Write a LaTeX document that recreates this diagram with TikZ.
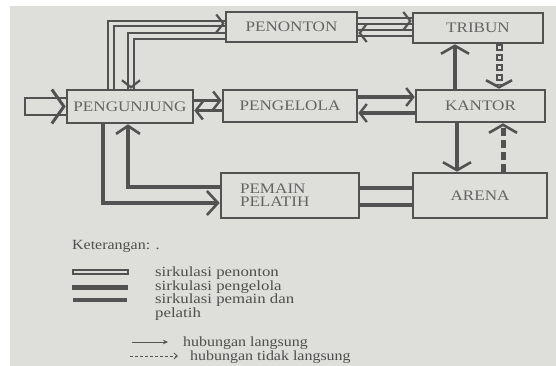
\documentclass[tikz,border=0pt]{standalone}
\usepackage{fontspec}
\setmainfont{Liberation Serif}
\usetikzlibrary{arrows.meta,calc}
\definecolor{paper}{RGB}{222,222,219}
\definecolor{ink}{RGB}{82,82,82}
\definecolor{txt}{RGB}{100,100,100}
\definecolor{ltxt}{RGB}{78,78,78}
\newcommand{\wx}[1]{\scalebox{1.18}[1]{#1}}
\newcommand{\lx}[1]{\scalebox{1.14}[1]{#1}}
\newcommand{\sx}[1]{\scalebox{1.2}[1]{#1}}
\begin{document}
\begin{tikzpicture}[x=1pt,y=-1pt,
  bx/.style={draw=ink,line width=2.6pt,rectangle,inner sep=0pt,text=txt,font=\fontsize{14.5}{13}\selectfont},
  penline/.style={draw=ink,line width=1.7pt,double=paper,double distance=3.8pt},
  pngline/.style={draw=ink,line width=3.6pt},
  pmnline/.style={draw=ink,line width=4.4pt},
  chevS/.style={draw=ink,line width=2pt,-{Straight Barb[length=7pt,width=18pt,line width=2.2pt]}},
  tipH/.style={-{Straight Barb[length=7pt,width=18pt,line width=2.4pt]}},
  tipV/.style={-{Straight Barb[length=8pt,width=28pt,line width=2.6pt]}},
  tipP/.style={-{Straight Barb[length=11pt,width=24pt,line width=2.6pt]}},
  legtext/.style={anchor=west,inner sep=0pt,text=ltxt,font=\fontsize{14}{14}\selectfont},
]
\useasboundingbox (0,0) rectangle (556,366);
\fill[white] (0,0) rectangle (556,366);
\fill[paper] (10,6) rectangle (556,366);

% boxes
\node[bx,minimum width=131pt,minimum height=30pt] (nPen) at (291.5,27) {\wx{PENONTON}};
\node[bx,minimum width=130pt,minimum height=30pt] (nTri) at (478,28) {\wx{TRIBUN}};
\node[bx,minimum width=126pt,minimum height=33pt] (pgj) at (130,106.5) {\wx{PENGUNJUNG}};
\node[bx,minimum width=134pt,minimum height=32pt] (pgl) at (290,106) {\wx{PENGELOLA}};
\node[bx,minimum width=129pt,minimum height=32pt] (kan) at (480.5,106) {\wx{KANTOR}};
\node[bx,minimum width=138pt,minimum height=45pt,text width=100pt,inner xsep=19pt,align=left] (pem) at (290,195.5) {\wx{PEMAIN}\\\wx{PELATIH}};
\node[bx,minimum width=134pt,minimum height=45pt] (are) at (480,195.5) {\wx{ARENA}};

% entry arrow into PENGUNJUNG
\coordinate (inA) at (25,98);
\coordinate (inB) at (25,115);
\draw[draw=ink,line width=2.6pt] (pgj.west |- inA) -- (inA) -- (inB) -- (pgj.west |- inB);
\draw[draw=ink,line width=2.6pt,-{Straight Barb[length=12pt,width=34pt,line width=3pt]}] (pgj.west) ++(-3,0) -- (pgj.west);

% penonton circulation
\coordinate (p1) at (111,23.5);
\coordinate (p2) at (131,36);
\draw[penline] (p1 |- pgj.north) -- (p1) -- (p1 -| nPen.west);
\draw[chevS] (p1 -| nPen.west) ++(-2,0) -- (p1 -| nPen.west);
\draw[penline] (p2 -| nPen.west) -- (p2) -- (p2 |- pgj.north);
\draw[chevS] (p2 |- pgj.north) ++(0,-2) -- (p2 |- pgj.north);

\coordinate (t1) at (385,21);
\coordinate (t2) at (385,33);
\draw[penline] (nPen.east |- t1) -- (nTri.west |- t1);
\draw[chevS] (nTri.west |- t1) ++(-2,0) -- (nTri.west |- t1);
\draw[penline] (nTri.west |- t2) -- (nPen.east |- t2);
\draw[chevS] (nPen.east |- t2) ++(2,0) -- (nPen.east |- t2);

% pengelola circulation
\coordinate (g1) at (208,100.5);
\coordinate (g2) at (208,110.5);
\coordinate (g3) at (386,97);
\coordinate (g4) at (386,113);
\draw[pngline,tipH] (pgj.east |- g1) -- (pgl.west |- g1);
\draw[pngline,tipH] (pgl.west |- g2) -- (pgj.east |- g2);
\draw[pngline,tipH] (pgl.east |- g3) -- (kan.west |- g3);
\draw[pngline,tipH] (kan.west |- g4) -- (pgl.east |- g4);

% verticals on the right
\coordinate (v1) at (455,60);
\coordinate (v2) at (499,60);
\coordinate (v3) at (457,150);
\coordinate (v4) at (503,150);
\draw[pngline,tipV] (v1 |- kan.north) -- (v1 |- nTri.south);
\draw[draw=ink,line width=7pt,dash pattern=on 7pt off 3pt] (v2 |- nTri.south) -- ([yshift=4pt]v2 |- kan.north);
\draw[draw=paper,line width=3pt,dash pattern=on 3pt off 7pt,dash phase=8pt] (v2 |- nTri.south) -- ([yshift=4pt]v2 |- kan.north);
\draw[draw=ink,line width=2.4pt,-{Straight Barb[length=7pt,width=26pt,line width=2.6pt]}] (v2 |- kan.north) ++(0,-2) -- (v2 |- kan.north);
\draw[pngline,tipV] (v3 |- kan.south) -- (v3 |- are.north);
\draw[draw=ink,line width=5pt,dash pattern=on 8pt off 4pt] (v4 |- are.north) -- ([yshift=-4pt]v4 |- kan.south);
\draw[draw=ink,line width=2.4pt,-{Straight Barb[length=8pt,width=28pt,line width=2.6pt]}] (v4 |- kan.south) ++(0,2) -- (v4 |- kan.south);

% pemain circulation
\coordinate (a1) at (386,188);
\coordinate (a2) at (386,205);
\draw[pmnline] (pem.east |- a1) -- (are.west |- a1);
\draw[pmnline] (pem.east |- a2) -- (are.west |- a2);
\coordinate (b1) at (103,203);
\coordinate (b2) at (128,187);
\draw[pmnline,tipP] (b1 |- pgj.south) -- (b1) -- (b1 -| pem.west);
\draw[pmnline,-{Straight Barb[length=8pt,width=24pt,line width=2.6pt]}] (b2 -| pem.west) -- (b2) -- (b2 |- pgj.south);

% legend
\node[legtext] (ket) at (72,246) {\lx{Keterangan: .}};
\draw[draw=ink,line width=1.2pt] (73,270) rectangle (128,274);
\fill[ink] (72,285) rectangle (128,289.5);
\fill[ink] (73,298) rectangle (127,302);
\node[legtext] (l1) at (155,273) {\sx{sirkulasi penonton}};
\node[legtext] (l2) at (155,287) {\sx{sirkulasi pengelola}};
\node[legtext] (l3) at (155,300.5) {\sx{sirkulasi pemain dan}};
\node[legtext] (l4) at (155,314) {\sx{pelatih}};
\coordinate (s1) at (132,342);
\coordinate (s2) at (168,342);
\draw[draw=ink,line width=0.9pt,-{Stealth[length=5pt,width=4.5pt]}] (s1) -- (s2);
\node[legtext] (l5) at (183,343) {\lx{hubungan langsung}};
\coordinate (d1) at (130,356);
\coordinate (d2) at (178,356);
\draw[draw=ink,line width=0.8pt,dash pattern=on 3pt off 2pt,-{Straight Barb[length=3.5pt,width=6pt,line width=0.8pt]}] (d1) -- (d2);
\node[legtext] (l6) at (190,357) {\lx{hubungan tidak langsung}};
\end{tikzpicture}
\end{document}
